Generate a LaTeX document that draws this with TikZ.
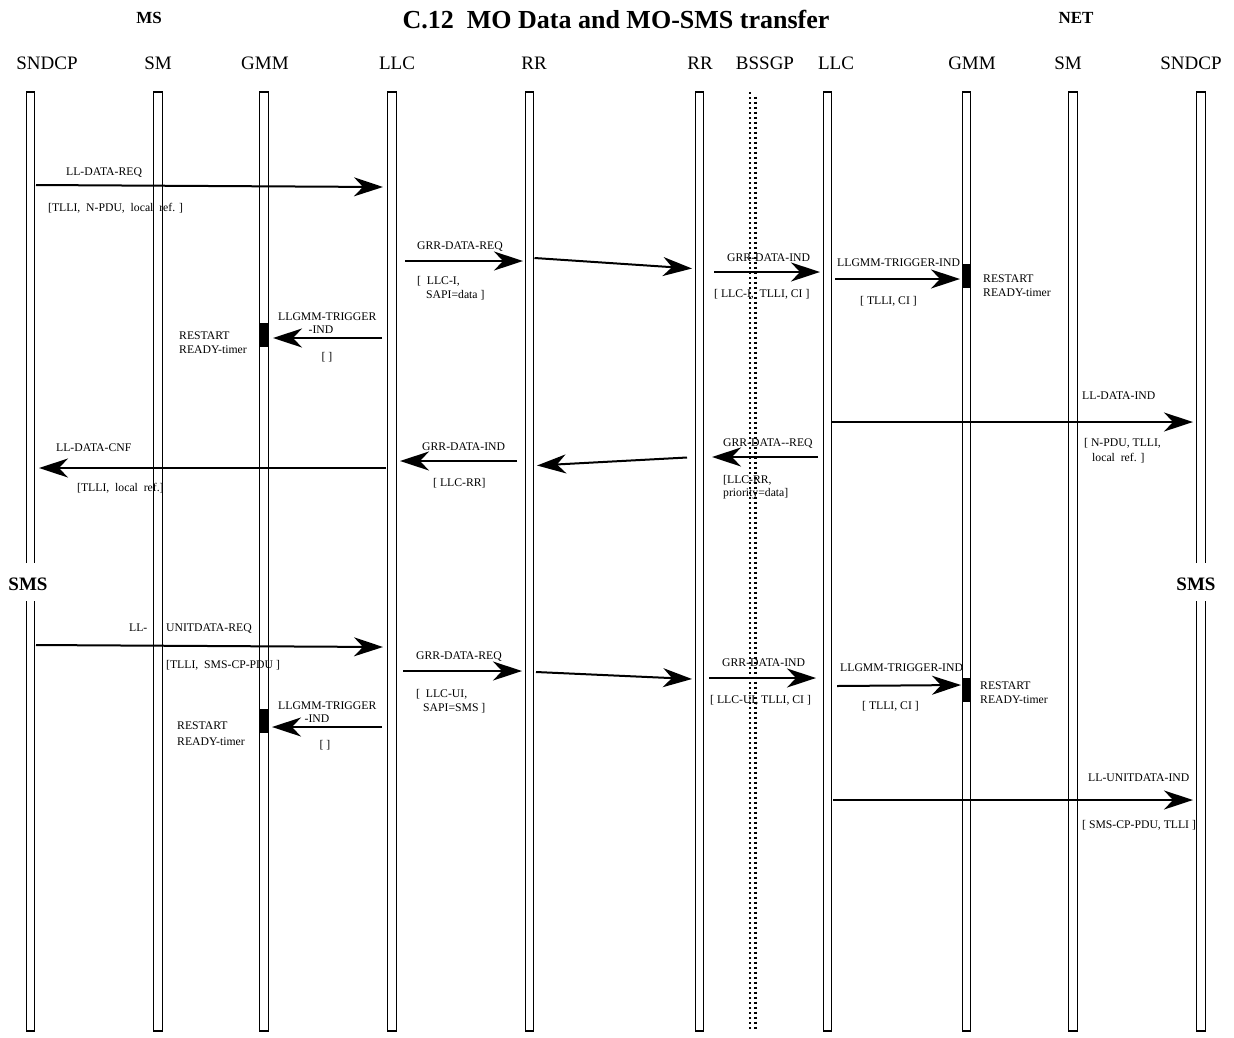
\documentclass[tikz,border=0pt]{standalone}
\usepackage{fontspec}
\setmainfont{Liberation Serif}
\usetikzlibrary{arrows.meta}
\begin{document}
\begin{tikzpicture}[x=1pt,y=-1pt,
  life/.style={draw, line width=1.4pt, minimum width=8.5pt, inner sep=0pt},
  lifeseg/.style={line width=1.4pt},
  msg/.style={line width=2pt, -{Stealth[length=29pt,width=19pt,inset=9pt]}},
  lbl/.style={anchor=base west, inner sep=0pt, yshift=-4pt, font=\fontsize{11.7}{13}\selectfont},
  clbl/.style={anchor=base, inner sep=0pt, yshift=-4pt, font=\fontsize{11.7}{13}\selectfont},
  hdr/.style={anchor=base, inner sep=0pt, yshift=-6.3pt, font=\fontsize{19}{22}\selectfont},
  bighdr/.style={anchor=base, inner sep=0pt, yshift=-6.4pt, font=\bfseries\fontsize{19}{22}\selectfont},
  side/.style={anchor=base, inner sep=0pt, yshift=-5.7pt, font=\bfseries\fontsize{17}{20}\selectfont},
  act/.style={fill=black, draw=none, minimum width=8.5pt, minimum height=24pt, inner sep=0pt},
  dots/.style={line width=2.4pt, dash pattern=on 2pt off 3pt},
]
\useasboundingbox (0,0) rectangle (1234,1037);

% titles
\node[anchor=base, inner sep=0pt, yshift=-8.8pt, font=\bfseries\fontsize{26}{30}\selectfont] (title) at (616,20) {C.12\ \ MO Data and MO-SMS transfer};
\node[side] (ms) at (149,18) {MS};
\node[side] (net) at (1076,18) {NET};

% headers
\node[hdr] (h1) at (47,63) {SNDCP};
\node[hdr] (h2) at (158,63) {SM};
\node[hdr] (h3) at (265,63) {GMM};
\node[hdr] (h4) at (397,63) {LLC};
\node[hdr] (h5) at (534,63) {RR};
\node[hdr] (h6) at (700,63) {RR};
\node[hdr] (h7) at (765,63) {BSSGP};
\node[hdr] (h8) at (836,63) {LLC};
\node[hdr] (h9) at (972,63) {GMM};
\node[hdr] (h10) at (1068,63) {SM};
\node[hdr] (h11) at (1191,63) {SNDCP};

% lifelines
\draw[lifeseg] (26.25,563) -- (26.25,92) -- (34.75,92) -- (34.75,563);
\draw[lifeseg] (26.25,601) -- (26.25,1031) -- (34.75,1031) -- (34.75,601);
\node[life, minimum height=939pt] (sm1) at (158,561.5) {};
\node[life, minimum height=939pt] (gmm1) at (264,561.5) {};
\node[life, minimum height=939pt] (llc1) at (392,561.5) {};
\node[life, minimum height=939pt] (rr1) at (529.5,561.5) {};
\node[life, minimum height=939pt] (rr2) at (699.5,561.5) {};
\node[life, minimum height=939pt] (llc2) at (827.5,561.5) {};
\node[life, minimum height=939pt] (gmm2) at (966.5,561.5) {};
\node[life, minimum height=939pt] (sm2) at (1073,561.5) {};
\draw[lifeseg] (1196.75,563) -- (1196.75,92) -- (1205.25,92) -- (1205.25,563);
\draw[lifeseg] (1196.75,601) -- (1196.75,1031) -- (1205.25,1031) -- (1205.25,601);

\node[bighdr] (sms1) at (28,584) {SMS};
\node[bighdr] (sms2) at (1196,584) {SMS};

% activation boxes
\node[act] (b1) at (264,335) {};
\node[act] (b2) at (264,720.5) {};
\node[act] (b3) at (966.5,276) {};
\node[act] (b4) at (966.5,689.5) {};

% arrow end points
\coordinate (a1s) at (36,185);     \coordinate (a1e) at (383,187);
\coordinate (a2s) at (405,261);    \coordinate (a2e) at (523,261);
\coordinate (a3s) at (534.5,258);  \coordinate (a3e) at (692,268.5);
\coordinate (a4s) at (714,272);    \coordinate (a4e) at (820,272);
\coordinate (a5s) at (835,279);    \coordinate (a5e) at (960,279);
\coordinate (a6s) at (382,338);    \coordinate (a6e) at (273,338);
\coordinate (a7s) at (832,422);    \coordinate (a7e) at (1193,422);
\coordinate (a8s) at (818,457);    \coordinate (a8e) at (712,457);
\coordinate (a9s) at (687,457.5);  \coordinate (a9e) at (537,465.5);
\coordinate (a10s) at (517,461);   \coordinate (a10e) at (400,461);
\coordinate (a11s) at (386,468);   \coordinate (a11e) at (39,468);
\coordinate (a12s) at (36,645);    \coordinate (a12e) at (383,647);
\coordinate (a13s) at (403,671);   \coordinate (a13e) at (522,671);
\coordinate (a14s) at (536,672);   \coordinate (a14e) at (692,679);
\coordinate (a15s) at (709,678);   \coordinate (a15e) at (816,678);
\coordinate (a16s) at (837,686);   \coordinate (a16e) at (961,685);
\coordinate (a17s) at (382,727);   \coordinate (a17e) at (272,727);
\coordinate (a18s) at (833,800);   \coordinate (a18e) at (1193,800);

\foreach \i in {1,...,18} {\draw[msg] (a\i s) -- (a\i e);}

% labels, first block
\node[lbl] (t1) at (66,171) {LL-DATA-REQ};
\node[lbl] (t2) at (48,207) {[TLLI,\ \ N-PDU,\ \ local\ \ ref. ]};
\node[lbl] (t3) at (417,245) {GRR-DATA-REQ};
\node[lbl] (t4) at (417,280) {[\ \ LLC-I,};
\node[lbl] (t5) at (426,294) {SAPI=data ]};
\node[lbl] (t6) at (727,257) {GRR-DATA-IND};
\node[lbl] (t7) at (714,293) {[ LLC-I,\ \ TLLI, CI ]};
\node[lbl] (t8) at (837,262) {LLGMM-TRIGGER-IND};
\node[lbl] (t9) at (860,300) {[ TLLI, CI ]};
\node[lbl] (t10) at (983,278) {RESTART};
\node[lbl] (t11) at (983,292) {READY-timer};
\node[lbl] (t12) at (278,316) {LLGMM-TRIGGER};
\node[clbl] (t13) at (321,329) {-IND};
\node[clbl] (t14) at (327,356) {[ ]};
\node[lbl] (t15) at (179,335) {RESTART};
\node[lbl] (t16) at (179,349) {READY-timer};
\node[lbl] (t17) at (1082,395) {LL-DATA-IND};
\node[lbl] (t18) at (1084,442) {[ N-PDU, TLLI,};
\node[lbl] (t19) at (1092,457) {local\ \ ref. ]};
\node[lbl] (t20) at (723,442) {GRR-DATA-{}-REQ};
\node[lbl] (t21) at (723,479) {[LLC-RR,};
\node[lbl] (t22) at (723,492) {priority=data]};
\node[lbl] (t23) at (422,446) {GRR-DATA-IND};
\node[lbl] (t24) at (433,482) {[ LLC-RR]};
\node[lbl] (t25) at (56,447) {LL-DATA-CNF};
\node[lbl] (t26) at (77,487) {[TLLI,\ \ local\ \ ref.]};

% labels, SMS block
\node[lbl] (u1) at (129,627) {LL-};
\node[lbl] (u2) at (166,627) {UNITDATA-REQ};
\node[lbl] (u3) at (166,664) {[TLLI,\ \ SMS-CP-PDU ]};
\node[lbl] (u4) at (416,655) {GRR-DATA-REQ};
\node[lbl] (u5) at (416,693) {[\ \ LLC-UI,};
\node[lbl] (u6) at (423,707) {SAPI=SMS ]};
\node[lbl] (u7) at (278,705) {LLGMM-TRIGGER};
\node[clbl] (u8) at (317,718) {-IND};
\node[clbl] (u9) at (325,744) {[ ]};
\node[lbl] (u10) at (177,725) {RESTART};
\node[lbl] (u11) at (177,741) {READY-timer};
\node[lbl] (u12) at (722,662) {GRR-DATA-IND};
\node[lbl] (u13) at (710,699) {[ LLC-UI, TLLI, CI ]};
\node[lbl] (u14) at (840,667) {LLGMM-TRIGGER-IND};
\node[lbl] (u15) at (862,705) {[ TLLI, CI ]};
\node[lbl] (u16) at (980,685) {RESTART};
\node[lbl] (u17) at (980,699) {READY-timer};
\node[lbl] (u18) at (1088,777) {LL-UNITDATA-IND};
\node[lbl] (u19) at (1082,824) {[ SMS-CP-PDU, TLLI ]};

% BSSGP dotted band
\coordinate (bs1) at (750,92); \coordinate (bs2) at (750,1031);
\coordinate (bs3) at (755.5,94); \coordinate (bs4) at (755.5,1031);
\draw[dots] (bs1) -- (bs2);
\draw[dots, dash phase=2.5pt] (bs3) -- (bs4);
\end{tikzpicture}
\end{document}
